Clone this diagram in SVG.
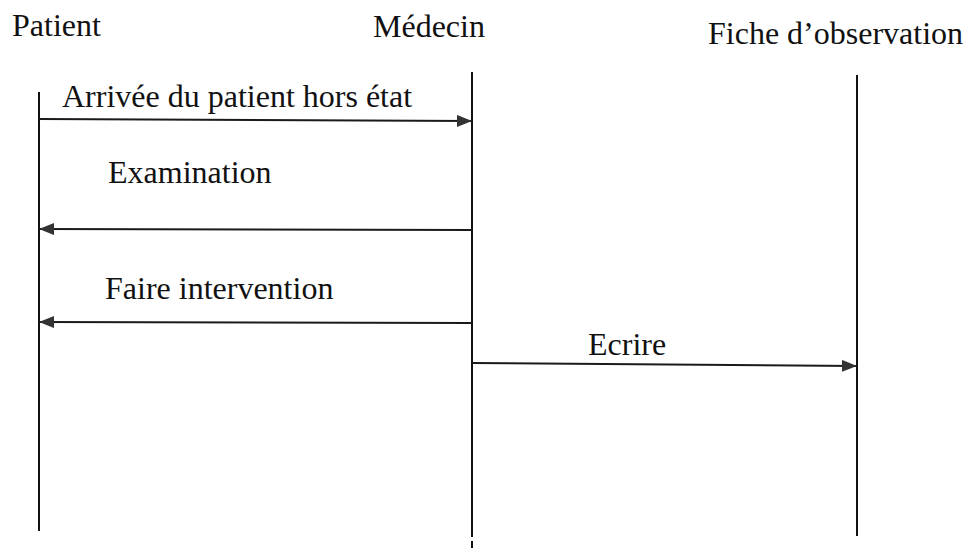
<svg xmlns="http://www.w3.org/2000/svg" width="968" height="553" viewBox="0 0 968 553">
  <style>
    text { font-family: 'Liberation Serif', 'Times New Roman', Times, 'DejaVu Serif', serif; font-size: 32px; fill: #111; }
    .lifeline { stroke: #111; stroke-width: 2; fill: none; }
    .msg { stroke: #1a1a1a; stroke-width: 2; fill: none; }
  </style>
  <defs>
    <marker id="arrow" viewBox="0 0 15 12" refX="15" refY="6" markerWidth="15" markerHeight="12" markerUnits="userSpaceOnUse" orient="auto">
      <path d="M0,0 L15,6 L0,12 Z" fill="#333"/>
    </marker>
  </defs>
  <rect width="968" height="553" fill="#fff"/>

  <!-- participants -->
  <g id="patient">
    <text font-family="Liberation Serif, serif" x="12" y="36">Patient</text>
    <line class="lifeline" x1="39" y1="92" x2="39" y2="531"/>
  </g>
  <g id="medecin">
    <text font-family="Liberation Serif, serif" x="373" y="37">Médecin</text>
    <line class="lifeline" x1="472" y1="72" x2="472" y2="537"/>
    <line class="lifeline" x1="472" y1="541" x2="472" y2="548"/>
  </g>
  <g id="fiche">
    <text font-family="Liberation Serif, serif" x="708" y="44">Fiche d’observation</text>
    <line class="lifeline" x1="857" y1="75" x2="857" y2="536"/>
  </g>

  <!-- messages -->
  <g id="messages">
    <line class="msg" x1="39" y1="119" x2="472" y2="121" marker-end="url(#arrow)"/>
    <text font-family="Liberation Serif, serif" x="62" y="107">Arrivée du patient hors état</text>

    <line class="msg" x1="472" y1="230" x2="39" y2="229" marker-end="url(#arrow)"/>
    <text font-family="Liberation Serif, serif" x="108" y="183">Examination</text>

    <line class="msg" x1="472" y1="323" x2="39" y2="322" marker-end="url(#arrow)"/>
    <text font-family="Liberation Serif, serif" x="105" y="299">Faire intervention</text>

    <line class="msg" x1="472" y1="363" x2="857" y2="366" marker-end="url(#arrow)"/>
    <text font-family="Liberation Serif, serif" x="588" y="355">Ecrire</text>
  </g>
</svg>
